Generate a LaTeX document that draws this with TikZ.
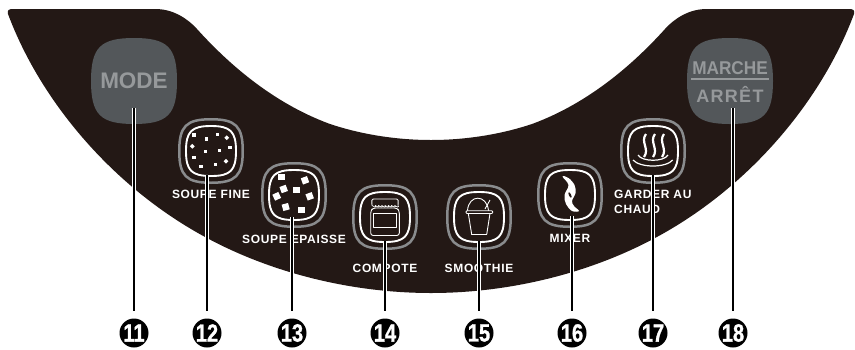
\documentclass[tikz,border=0pt]{standalone}
\usepackage{fontspec}
\usepackage{tikz}
\usetikzlibrary{positioning}
\setmainfont{Liberation Sans}
\newfontfamily\lblFont[LetterSpace=5.5]{Liberation Sans}
\newfontfamily\arretFont[LetterSpace=7]{Liberation Sans}
\newfontfamily\marFont[BoldFeatures={FakeStretch=0.93}]{Liberation Sans}
\newfontfamily\numFont[BoldFeatures={FakeStretch=0.8,FakeBold=1.2}]{Liberation Sans}
\definecolor{panelDark}{RGB}{35,24,21}
\definecolor{keyGray}{RGB}{83,87,90}
\definecolor{keyText}{RGB}{150,153,155}
\definecolor{ringGray}{RGB}{137,139,141}
\newcommand\sqLoop{(-1,0) .. controls (-1,-.78) and (-.78,-1) .. (0,-1)
  .. controls (.78,-1) and (1,-.78) .. (1,0)
  .. controls (1,.78) and (.78,1) .. (0,1)
  .. controls (-.78,1) and (-1,.78) .. (-1,0) -- cycle}
\tikzset{
  keyBig/.style  = {rectangle, minimum size=86pt, inner sep=0pt},
  ringBtn/.style = {rectangle, minimum size=66pt, inner sep=0pt, outer sep=0pt},
  lblTxt/.style  = {text=white, inner sep=0pt, text height=8.7pt, text depth=0pt,
                    font=\lblFont\bfseries\fontsize{12}{14}\selectfont},
  numBadge/.style = {circle, fill=black, text=white, minimum size=29pt, inner sep=0pt,
                     font=\numFont\bfseries\fontsize{25}{25}\selectfont},
  leader/.style  = {draw=white, line width=1.1pt, double=black, double distance=1.6pt, shorten >=7.5pt},
  iconLine/.style = {draw=white, line width=0.9pt, line join=round},
}
\begin{document}
\begin{tikzpicture}[x=1pt,y=-1pt]
  \useasboundingbox (0,0) rectangle (855,349);
  % panel
  \fill[panelDark] (8,14) .. controls (7,10) and (9,9) .. (13,9) -- (155,9)
    .. controls (172,9) and (186,17) .. (197,29)
    .. controls (225,60) and (270,102) .. (330,124)
    .. controls (360,134) and (395,140) .. (431,140)
    .. controls (467,140) and (502,134) .. (532,124)
    .. controls (592,102) and (637,60) .. (665,29)
    .. controls (676,17) and (690,9) .. (707,9) -- (849,9)
    .. controls (853,9) and (855,10) .. (854,14)
    .. controls (820,105) and (745,190) .. (655,238)
    .. controls (590,273) and (510,293) .. (431,293)
    .. controls (352,293) and (272,273) .. (207,238)
    .. controls (117,190) and (42,105) .. (8,14) -- cycle;
  % big keys
  \fill[keyGray,shift={(134,81)},scale=43] \sqLoop;
  \fill[keyGray,shift={(730,81)},scale=43] \sqLoop;
  \node[keyBig](bMode) at (134,81){};
  \node[keyBig](bPower) at (730,81){};
  \node[font=\bfseries\fontsize{22.5}{22.5}\selectfont,text=keyText,inner sep=0pt](tMode) at (bMode){MODE};
  \node[font=\marFont\bfseries\fontsize{18.5}{18.5}\selectfont,text=keyText,inner sep=0pt](tOn) at (730,68){MARCHE};
  \node[font=\arretFont\bfseries\fontsize{18}{18}\selectfont,text=keyText,inner sep=0pt](tOff) at (730,94.5){ARRÊT};
  \draw[keyText,line width=1.2pt] (691,79) -- (769,79);
  % small keys
  \foreach \nm/\cx/\cy in {Fine/211/151,Thick/294/195,Jam/385/217,Cup/479/217,Mix/570/195,Warm/653/151}{
    \node[ringBtn](r\nm) at (\cx,\cy){};
    \draw[ringGray,line width=2.5pt,shift={(\cx,\cy)},scale=31.75] \sqLoop;
    \draw[white,line width=1.9pt,shift={(\cx,\cy)},scale=25] \sqLoop;
  }
  \node[lblTxt,below=6pt of rFine]{SOUPE FINE};
  \node[lblTxt,below=7pt of rThick]{SOUPE EPAISSE};
  \node[lblTxt,below=14pt of rJam]{COMPOTE};
  \node[lblTxt,below=14pt of rCup]{SMOOTHIE};
  \node[lblTxt,below=6pt of rMix]{MIXER};
  \node[lblTxt,below right=6pt and -6pt of rWarm.south west](tWarm){GARDER AU};
  \node[lblTxt,below=5.3pt of tWarm.south west,anchor=north west]{CHAUD};
  % icons
  \foreach \x/\y/\r in {194/135/0,206.3/139/0,217.7/134.3/0,226.7/137.7/45,192.3/146.3/45,205.3/151.7/0,219.3/150.3/0,230/147.7/0,194/157.7/0,201/166.7/0,215.7/164.3/0,226/161.3/45}
    \fill[white,shift={(\x,\y)},rotate=\r] (-1.7,-1.7) rectangle (1.7,1.7);
  \foreach \x/\y/\r in {281.7/177/0,305/180.3/20,283.7/189/20,296.3/190/0,276.7/196.3/25,309.7/196.3/20,285.7/207/15,301.3/210/0}
    \fill[white,shift={(\x,\y)},rotate=\r] (-3.3,-3.3) rectangle (3.3,3.3);
  % jar
  \draw[iconLine,rounded corners=1.5pt] (372,205.5) -- (371.7,199) -- (398.3,199) -- (398,205.5);
  \draw[iconLine,line width=0.7pt] (372,205.5) \foreach \i in {0,...,7}{ .. controls ++(1,2) and ++(2,2) .. ++(3.25,0)};
  \draw[iconLine,rounded corners=2.5pt] (373,208) -- (370.7,211) -- (370.7,235.5) -- (399.3,235.5) -- (399.3,211) -- (397,208) -- cycle;
  \draw[iconLine] (373.3,213.5) rectangle (396.7,227.7);
  % cup
  \draw[iconLine,rounded corners=1pt] (466,210.7) rectangle (492.7,213.5);
  \draw[iconLine] (468.3,213.5) -- (471.7,234.5) -- (486.7,234.5) -- (490,213.5);
  \draw[iconLine] (467.5,210.7) .. controls (468.5,194) and (487,194) .. (488.5,210.7);
  \draw[iconLine] (485,209) -- (490,200);
  % blade
  \fill[white] plot[smooth cycle,tension=0.6] coordinates {(562.5,176.5) (568.5,178) (574.5,185) (575.5,193) (572,201) (574,206) (579,211) (572,211) (566,204) (564.5,195) (568.5,185)};
  \fill[panelDark,rotate around={25:(570,195)}] (570,195) ellipse (1.1 and 3);
  % steam
  \foreach \sx in {645,654,663}
    \draw[white,line width=2.2pt] (\sx+1,134) .. controls (\sx-5,142) and (\sx+5,149) .. (\sx-1,157);
  \draw[white,line width=1.2pt] (638,155) .. controls (642,162) and (664,162) .. (668,155);
  \draw[white,line width=1.2pt] (633,160) .. controls (640,168) and (666,168) .. (672.7,160);
  % badges and leaders
  \foreach \nm/\cx/\txt in {A/134/11,B/207/12,C/292/13,D/385/14,E/479/15,F/572/16,G/653/17,H/733/18}
    \node[numBadge](n\nm) at (\cx,333){\txt};
  \coordinate (tA) at (134,108);
  \coordinate (tB) at (207,175);
  \coordinate (tC) at (292,217);
  \coordinate (tD) at (385,241);
  \coordinate (tE) at (479,241);
  \coordinate (tF) at (572,216);
  \coordinate (tG) at (653,175);
  \coordinate (tH) at (733,108);
  \foreach \nm in {A,B,C,D,E,F,G,H}
    \draw[leader] (t\nm) -- (n\nm.north);
\end{tikzpicture}
\end{document}
